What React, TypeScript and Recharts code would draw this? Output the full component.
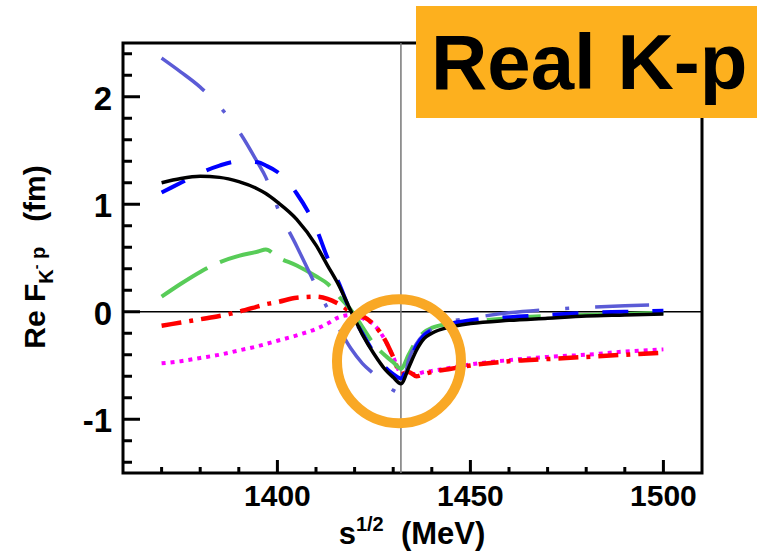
import React from "react";
import { LineChart, Line, XAxis, YAxis, ReferenceLine, ReferenceArea, ReferenceDot } from "recharts";

// sqrt(s) grid in MeV
const energy = [1370, 1375, 1380, 1385, 1390, 1395, 1397, 1400, 1405, 1410, 1413, 1416, 1419, 1422, 1425, 1428, 1430, 1432, 1434, 1436, 1438, 1440, 1445, 1450, 1460, 1470, 1480, 1490, 1500];

// Re F_K-p (fm) per model
const solidBlack = [1.2, 1.24, 1.26, 1.25, 1.21, 1.14, 1.1, 1.02, 0.86, 0.62, 0.43, 0.24, 0.01, -0.21, -0.39, -0.54, -0.61, -0.67, -0.52, -0.36, -0.25, -0.2, -0.14, -0.11, -0.08, -0.06, -0.04, -0.03, -0.02];
const dashedBlue = [1.11, 1.2, 1.29, 1.36, 1.4, 1.39, 1.36, 1.3, 1.1, 0.78, 0.5, 0.26, 0.0, -0.2, -0.38, -0.52, -0.58, -0.62, -0.48, -0.32, -0.22, -0.17, -0.11, -0.08, -0.05, -0.03, -0.01, 0.0, 0.01];
const dashDotSlate = [2.36, 2.23, 2.09, 1.91, 1.68, 1.38, 1.25, 0.97, 0.61, 0.24, 0.03, -0.16, -0.34, -0.48, -0.58, -0.68, -0.73, -0.76, -0.45, -0.3, -0.21, -0.16, -0.09, -0.06, -0.01, 0.02, 0.04, 0.055, 0.065];
const dashedGreen = [0.14, 0.26, 0.37, 0.46, 0.52, 0.56, 0.58, 0.51, 0.43, 0.33, 0.26, 0.14, 0.02, -0.14, -0.3, -0.41, -0.47, -0.53, -0.4, -0.27, -0.19, -0.15, -0.11, -0.09, -0.06, -0.04, -0.03, -0.02, -0.01];
const dashDotRed = [-0.13, -0.1, -0.07, -0.04, 0.0, 0.05, 0.07, 0.09, 0.13, 0.14, 0.12, 0.07, 0.0, -0.04, -0.12, -0.27, -0.42, -0.58, -0.56, -0.6, -0.58, -0.56, -0.53, -0.5, -0.46, -0.44, -0.42, -0.4, -0.38];
const dottedMagenta = [-0.48, -0.46, -0.43, -0.4, -0.36, -0.32, -0.3, -0.27, -0.22, -0.16, -0.11, -0.05, -0.03, -0.06, -0.12, -0.27, -0.42, -0.57, -0.58, -0.58, -0.56, -0.55, -0.52, -0.49, -0.45, -0.42, -0.4, -0.37, -0.35];

const xTicks = [1370, 1380, 1390, 1400, 1410, 1420, 1430, 1440, 1450, 1460, 1470, 1480, 1490, 1500];
const xLabels = [1400, 1450, 1500];
const yTicks = [-1.4, -1.2, -1, -0.8, -0.6, -0.4, -0.2, 0, 0.2, 0.4, 0.6, 0.8, 1, 1.2, 1.4, 1.6, 1.8, 2, 2.2, 2.4];
const yLabels = [-1, 0, 1, 2];

const threshold = 1432;

const rows = energy.map((e, i) => ({
  e,
  black: solidBlack[i],
  blue: dashedBlue[i],
  slate: dashDotSlate[i],
  green: dashedGreen[i],
  red: dashDotRed[i],
  magenta: dottedMagenta[i],
}));

const FONT = "'Liberation Sans', Arial, sans-serif";

function XTick(props: any) {
  const { x, y, payload } = props;
  const major = xLabels.includes(payload.value);
  return (
    <g>
      <line x1={x} x2={x} y1={y} y2={y - (major ? 13 : 6)} stroke="#000" strokeWidth={3} />
      {major && (
        <text x={x} y={y + 33} textAnchor="middle" fontFamily={FONT} fontWeight="bold" fontSize={30} fill="#000">
          {payload.value}
        </text>
      )}
    </g>
  );
}

function YTick(props: any) {
  const { x, y, payload } = props;
  const major = yLabels.some((v) => Math.abs(v - payload.value) < 1e-6);
  return (
    <g>
      <line x1={x} x2={x + (major ? 17 : 9)} y1={y} y2={y} stroke="#000" strokeWidth={3} />
      {major && (
        <text x={x - 11} y={y + 13} textAnchor="end" fontFamily={FONT} fontWeight="bold" fontSize={33} fill="#000">
          {Math.round(payload.value)}
        </text>
      )}
    </g>
  );
}

export default function App() {
  return (
    <div style={{ position: "absolute", left: 0, top: 0, width: 757, height: 552, background: "#fff" }}>
      <LineChart width={757} height={552} data={rows} margin={{ top: 43, right: 55, bottom: 0, left: 0 }}>
        <XAxis
          dataKey="e"
          type="number"
          domain={[1360, 1510]}
          ticks={xTicks}
          interval={0}
          height={79}
          tickSize={0}
          tickMargin={0}
          axisLine={false}
          tickLine={false}
          tick={<XTick />}
        />
        <YAxis
          type="number"
          domain={[-1.5, 2.5]}
          ticks={yTicks}
          interval={0}
          width={123}
          tickSize={0}
          tickMargin={0}
          axisLine={false}
          tickLine={false}
          tick={<YTick />}
        />
        <ReferenceDot x={1431.5} y={-0.46} r={62} fill="none" stroke="#F9A825" strokeWidth={10} />
        <ReferenceLine y={0} stroke="#000" strokeWidth={1.5} />
        <ReferenceLine x={threshold} stroke="#777" strokeWidth={1.5} />
        <Line dataKey="magenta" type="monotone" stroke="#FF00FF" strokeWidth={4} strokeDasharray="4 5" dot={false} isAnimationActive={false} />
        <Line dataKey="red" type="monotone" stroke="#FF0000" strokeWidth={4.5} strokeDasharray="20 8 4 8" dot={false} isAnimationActive={false} />
        <Line dataKey="green" type="monotone" stroke="#58CC58" strokeWidth={4} strokeDasharray="54 14" dot={false} isAnimationActive={false} />
        <Line dataKey="slate" type="monotone" stroke="#5B5BD6" strokeWidth={3.5} strokeDasharray="54 26 4 26" dot={false} isAnimationActive={false} />
        <Line dataKey="blue" type="monotone" stroke="#0000FF" strokeWidth={4} strokeDasharray="26 24" dot={false} isAnimationActive={false} />
        <Line dataKey="black" type="monotone" stroke="#000" strokeWidth={3.5} dot={false} isAnimationActive={false} />
        <ReferenceArea x1={1360} x2={1510} y1={-1.5} y2={2.5} fill="none" stroke="#000" strokeWidth={3} />
      </LineChart>
      <svg width={757} height={552} style={{ position: "absolute", left: 0, top: 0, pointerEvents: "none" }}>
        <text x={412} y={544} textAnchor="middle" fontFamily={FONT} fontWeight="bold" fontSize={31} fill="#000">
          s<tspan fontSize={20} dy={-13}>1/2</tspan>
          <tspan dy={13}>{"\u00a0 (MeV)"}</tspan>
        </text>
        <text transform="translate(45,257) rotate(-90)" textAnchor="middle" fontFamily={FONT} fontWeight="bold" fontSize={30} fill="#000">
          Re F<tspan fontSize={20} dy={8}>K</tspan>
          <tspan fontSize={14} dy={-12}>-</tspan>
          <tspan fontSize={20} dy={4}>{"\u00a0p"}</tspan>
          <tspan dy={0}>{"\u00a0\u00a0 (fm)"}</tspan>
        </text>
      </svg>
      <div
        style={{
          position: "absolute",
          left: 416,
          top: 6,
          width: 341,
          height: 112,
          background: "#FDB01E",
          boxSizing: "border-box",
          paddingLeft: 15,
          fontFamily: FONT,
          fontWeight: "bold",
          fontSize: 78,
          lineHeight: "112px",
          color: "#000",
          whiteSpace: "nowrap",
        }}
      >
        Real K-p
      </div>
    </div>
  );
}
